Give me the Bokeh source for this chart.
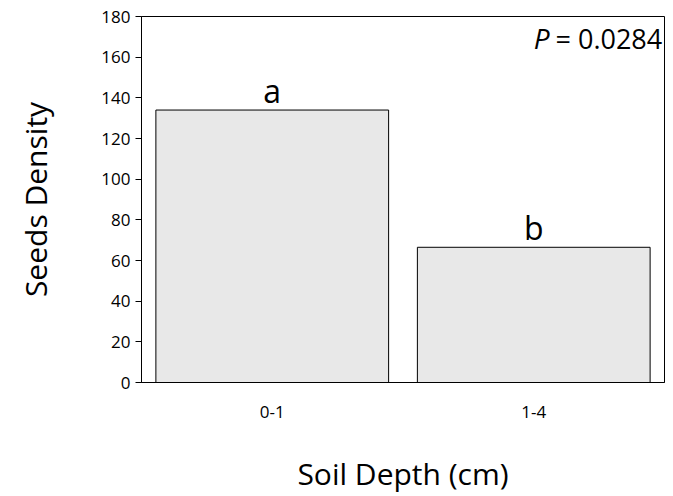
from bokeh.plotting import figure
from bokeh.models import Range1d, Label, FactorRange
from bokeh.embed import file_html
from bokeh.resources import INLINE

categories = ["0-1", "1-4"]
values = [134, 66.5]
letters = ["a", "b"]

F = "Open Sans"
p = figure(x_range=FactorRange(*categories), y_range=Range1d(0, 180), width=667, height=496,
           output_backend="svg", toolbar_location=None,
           min_border_left=141, min_border_right=3, min_border_top=16, min_border_bottom=100)
p.vbar(x=categories, top=values, width=0.89, fill_color="#e8e8e8", line_color="black", line_width=1)
p.text(x=categories, y=values, text=letters, text_align="center", text_baseline="bottom",
       text_font_size="32px", text_font={"value": F}, y_offset=2)
p.xgrid.visible = False
p.ygrid.visible = False
p.outline_line_color = "black"
p.outline_line_alpha = 1
p.yaxis.ticker = list(range(0, 181, 20))
p.yaxis.minor_tick_line_color = None
p.yaxis.major_tick_out = 6
p.yaxis.major_tick_in = 0
p.xaxis.major_tick_line_color = None
p.xaxis.axis_line_color = "black"
for ax in (p.xaxis, p.yaxis):
    ax.major_label_text_font = F
    ax.major_label_text_font_size = "17px"
    ax.major_label_text_color = "black"
    ax.axis_label_text_font = F
    ax.axis_label_text_font_size = "30px"
    ax.axis_label_text_font_style = "normal"
    ax.axis_label_text_color = "black"
p.xaxis.major_label_standoff = 17
p.xaxis.axis_label = "Soil Depth (cm)"
p.xaxis.axis_label_standoff = 32
p.yaxis.axis_label = "Seeds Density"
p.yaxis.axis_label_standoff = 42
p.add_layout(Label(x=408, y=160, x_units="screen", y_units="data", text="P",
                   text_font=F, text_font_size="28px", text_font_style="italic",
                   text_align="right", text_color="black"))
p.add_layout(Label(x=414, y=160, x_units="screen", y_units="data", text="= 0.0284",
                   text_font=F, text_font_size="27px", text_align="left", text_color="black"))
p.x_range.range_padding = 0
p.x_range.group_padding = 0
open("out.html", "w").write(file_html(p, INLINE))
